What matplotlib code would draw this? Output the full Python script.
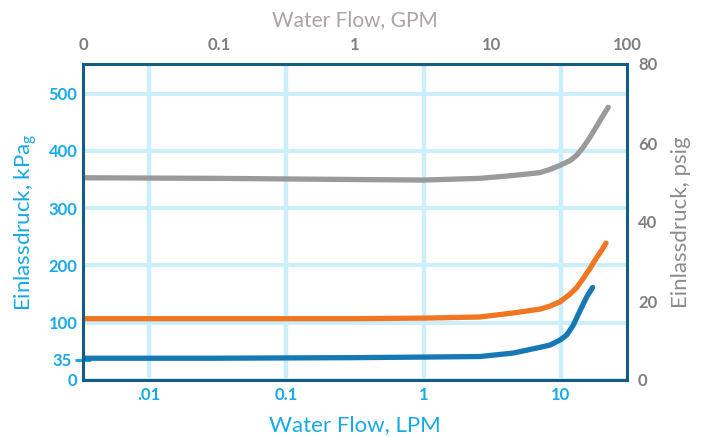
import matplotlib
matplotlib.use('Agg')
import matplotlib.pyplot as plt
from matplotlib.ticker import FixedLocator, FixedFormatter, NullLocator, NullFormatter

plt.rcParams['font.family'] = ['Lato', 'DejaVu Sans']

# ---- data (flow in LPM, pressure in kPa) ----
lpm_gray = [0.0033, 0.03, 0.3, 1.0, 2.57, 4.48, 7.03, 8.32, 9.84, 11.64, 13.0, 14.5, 16.3, 18.2, 20.3, 22.1]
kpa_gray = [353, 352, 350, 349, 352, 357, 362, 367.6, 374.6, 383, 392, 406, 424, 443, 462, 476]

lpm_orange = [0.0033, 0.03, 0.3, 1.0, 2.57, 4.48, 7.03, 8.32, 9.84, 11.64, 13.0, 14.5, 16.3, 18.2, 19.8, 21.3]
kpa_orange = [107, 107, 107, 108, 110, 117, 123.7, 129, 136.5, 150, 161, 177, 195, 213.7, 226.5, 239]

lpm_blue = [0.0033, 0.03, 0.3, 1.0, 2.57, 4.48, 7.03, 8.32, 9.84, 11.0, 12.3, 13.7, 15.4, 17.0]
kpa_blue = [38, 38, 39, 40, 41, 47, 57, 61, 69.7, 78.4, 95.8, 120, 145, 161.5]

kpa_ticks = [0, 100, 200, 300, 400, 500]
kpa_tick_labels = ['0', '100', '200', '300', '400', '500']
kpa_extra_ticks = [35]
kpa_extra_labels = ['35']
psig_ticks = [0, 20, 40, 60, 80]
psig_tick_labels = ['0', '20', '40', '60', '80']
psig_marks = [20, 40, 60]
lpm_ticks = [0.01, 0.1, 1, 10]
lpm_tick_labels = ['.01', '0.1', '1', '10']
gpm_ticks = [0.01, 0.1, 1, 10, 100]
gpm_tick_labels = ['0', '0.1', '1', '10', '100']
gpm_marks = [0.1, 1, 10]

KPA_PER_PSI = 6.895
PSI_MAX = 80

CYAN = '#17aae6'
NAVY = '#135d85'
GRID = '#cbeefb'
GRAYTXT = '#7f7f7f'

fig = plt.figure(figsize=(7.07, 4.37), dpi=100)
ax = fig.add_axes([83/707, 57/437, 544/707, 316/437])
ax.set_xscale('log')
ax.set_xlim(10**-2.481, 10**1.481)
ax.set_ylim(0, PSI_MAX * KPA_PER_PSI)

# grid
ax.xaxis.set_major_locator(FixedLocator(lpm_ticks))
ax.xaxis.set_major_formatter(FixedFormatter(lpm_tick_labels))
ax.xaxis.set_minor_locator(NullLocator())
ax.yaxis.set_major_locator(FixedLocator(kpa_ticks))
ax.yaxis.set_major_formatter(FixedFormatter(kpa_tick_labels))
ax.yaxis.set_minor_locator(FixedLocator(kpa_extra_ticks))
ax.yaxis.set_minor_formatter(FixedFormatter(kpa_extra_labels))
ax.grid(True, which='major', axis='x', color=GRID, linewidth=3.2)
ax.grid(True, which='major', axis='y', color=GRID, linewidth=2.8)
ax.set_axisbelow(True)

ax.tick_params(axis='both', which='major', length=0, labelcolor=CYAN,
               labelsize=12)
ax.tick_params(axis='x', which='major', pad=5)
ax.tick_params(axis='y', which='major', pad=4)
ax.tick_params(axis='y', which='minor', direction='inout', length=11, width=2.2,
               color=CYAN, labelcolor=CYAN, labelsize=12, pad=3)
for lab in ax.get_xticklabels() + ax.get_yticklabels() + ax.get_yticklabels(minor=True):
    lab.set_fontweight('bold')

for s in ax.spines.values():
    s.set_color(NAVY)
    s.set_linewidth(2.2)
    s.set_zorder(5)

ax.plot(lpm_gray, kpa_gray, color='#9a9a9a', lw=3.8, solid_capstyle='round', solid_joinstyle='round')
ax.plot(lpm_orange, kpa_orange, color='#f07622', lw=3.8, solid_capstyle='round', solid_joinstyle='round')
ax.plot(lpm_blue, kpa_blue, color='#1679b6', lw=3.8, solid_capstyle='round', solid_joinstyle='round')

ax.set_xlabel('Water Flow, LPM', color=CYAN, fontsize=16, labelpad=9)
ax.set_ylabel(r'Einlassdruck, kPa$_\mathregular{g}$', color=CYAN, fontsize=16, labelpad=7)

# right axis psig
ax2 = ax.twinx()
ax2.set_ylim(0, PSI_MAX)
ax2.yaxis.set_major_locator(FixedLocator(psig_ticks))
ax2.yaxis.set_major_formatter(FixedFormatter(psig_tick_labels))
ax2.yaxis.set_minor_locator(FixedLocator(psig_marks))
ax2.yaxis.set_minor_formatter(NullFormatter())
ax2.tick_params(axis='y', which='major', length=0, labelcolor=GRAYTXT, labelsize=12, pad=8)
ax2.tick_params(axis='y', which='minor', direction='inout', length=9, width=2, color='#8f96a8')
for lab in ax2.get_yticklabels():
    lab.set_fontweight('bold')
ax2.set_ylabel('Einlassdruck, psig', color='#8c8c8c', fontsize=16, labelpad=10)
for s in ax2.spines.values():
    s.set_visible(False)

# top axis GPM
ax3 = ax.twiny()
ax3.set_xscale('log')
ax3.set_xlim(gpm_ticks[0], gpm_ticks[-1])
ax3.xaxis.set_major_locator(FixedLocator(gpm_ticks))
ax3.xaxis.set_major_formatter(FixedFormatter(gpm_tick_labels))
ax3.xaxis.set_minor_locator(FixedLocator(gpm_marks))
ax3.xaxis.set_minor_formatter(NullFormatter())
ax3.tick_params(axis='x', which='major', length=0, labelcolor=GRAYTXT, labelsize=12, pad=8)
ax3.tick_params(axis='x', which='minor', direction='inout', length=12, width=2, color='#cdd0dc')
for lab in ax3.get_xticklabels():
    lab.set_fontweight('bold')
ax3.set_xlabel('Water Flow, GPM', color='#ada3a3', fontsize=15, labelpad=8)
for s in ax3.spines.values():
    s.set_visible(False)

fig.savefig('out.png', dpi=100)
